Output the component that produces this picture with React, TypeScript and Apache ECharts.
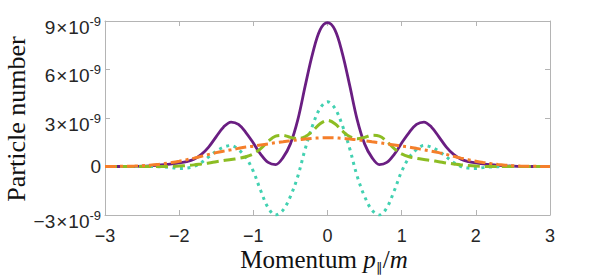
import React, { useEffect, useRef } from "react";
import * as echarts from "echarts";

// momentum p_parallel / m
const momentum = [
  -3.0, -2.9, -2.8, -2.7, -2.6, -2.5, -2.4, -2.3, -2.2, -2.1,
  -2.0, -1.9, -1.8, -1.7, -1.6, -1.5, -1.4, -1.3, -1.2, -1.1,
  -1.0, -0.9, -0.8, -0.7, -0.6, -0.5, -0.4, -0.3, -0.2, -0.1,
  0.0, 0.1, 0.2, 0.3, 0.4, 0.5, 0.6, 0.7, 0.8, 0.9,
  1.0, 1.1, 1.2, 1.3, 1.4, 1.5, 1.6, 1.7, 1.8, 1.9,
  2.0, 2.1, 2.2, 2.3, 2.4, 2.5, 2.6, 2.7, 2.8, 2.9, 3.0,
];

// particle number, in units of 1e-9
const purpleSolid = [
  0, 0, 0, 0, 0.01, 0.02, 0.04, 0.07, 0.11, 0.16,
  0.22, 0.3, 0.45, 0.75, 1.22, 1.85, 2.45, 2.75, 2.6, 2.1,
  1.45, 0.75, 0.25, 0.12, 0.55, 1.4, 2.9, 5.0, 7.0, 8.45,
  8.9, 8.45, 7.0, 5.0, 2.9, 1.4, 0.55, 0.12, 0.25, 0.75,
  1.45, 2.1, 2.6, 2.75, 2.45, 1.85, 1.22, 0.75, 0.45, 0.3,
  0.22, 0.16, 0.11, 0.07, 0.04, 0.02, 0.01, 0, 0, 0, 0,
];

const tealDotted = [
  0, 0, 0, 0, 0, 0, 0, -0.01, -0.03, -0.07,
  -0.12, -0.1, 0.0, 0.25, 0.6, 0.95, 1.2, 1.3, 1.05, 0.55,
  -0.3, -1.5, -2.55, -3.0, -2.7, -1.85, -0.6, 1.1, 2.55, 3.6,
  4.0, 3.6, 2.55, 1.1, -0.6, -1.85, -2.7, -3.0, -2.55, -1.5,
  -0.3, 0.55, 1.05, 1.3, 1.2, 0.95, 0.6, 0.25, 0.0, -0.1,
  -0.12, -0.07, -0.03, -0.01, 0, 0, 0, 0, 0, 0, 0,
];

const greenDashed = [
  0, 0, 0, 0, 0, 0, 0, 0, 0, 0.01,
  0.03, 0.06, 0.1, 0.16, 0.22, 0.3, 0.37, 0.43, 0.5, 0.6,
  0.78, 1.1, 1.55, 1.88, 1.93, 1.8, 1.72, 1.85, 2.2, 2.65,
  2.85, 2.65, 2.2, 1.85, 1.72, 1.8, 1.93, 1.88, 1.55, 1.1,
  0.78, 0.6, 0.5, 0.43, 0.37, 0.3, 0.22, 0.16, 0.1, 0.06,
  0.03, 0.01, 0, 0, 0, 0, 0, 0, 0, 0, 0,
];

const orangeDashDot = [
  0, 0, 0.01, 0.02, 0.03, 0.05, 0.08, 0.12, 0.18, 0.25,
  0.33, 0.42, 0.52, 0.63, 0.75, 0.86, 0.95, 1.03, 1.12, 1.2,
  1.26, 1.33, 1.4, 1.47, 1.53, 1.59, 1.65, 1.7, 1.74, 1.77,
  1.78, 1.77, 1.74, 1.7, 1.65, 1.59, 1.53, 1.47, 1.4, 1.33,
  1.26, 1.2, 1.12, 1.03, 0.95, 0.86, 0.75, 0.63, 0.52, 0.42,
  0.33, 0.25, 0.18, 0.12, 0.08, 0.05, 0.03, 0.02, 0.01, 0, 0,
];

const xTicks = [-3, -2, -1, 0, 1, 2, 3];
const yTicks = [-3, 0, 3, 6, 9];

const AXIS_COLOR = "#b4b4b4";
const TEXT_COLOR = "#262626";
const SANS = "'Liberation Sans', Arial, sans-serif";
const SERIF = "'Liberation Serif', 'Times New Roman', serif";

function pairs(ys: number[]) {
  return momentum.map((x, i) => [x, ys[i]]);
}

function num(v: number) {
  return v < 0 ? "\u2212" + Math.abs(v) : String(v);
}

export default function App() {
  const ref = useRef<HTMLDivElement>(null);

  useEffect(() => {
    if (!ref.current) return;
    const chart = echarts.init(ref.current, undefined, { renderer: "svg" });

    const axisCommon = {
      axisLine: { show: true, onZero: false, lineStyle: { color: AXIS_COLOR, width: 1 } },
      axisTick: { show: true, inside: true, length: 5, lineStyle: { color: AXIS_COLOR, width: 1 } },
      splitLine: { show: false },
    };

    const labelRich = {
      b: { fontFamily: SANS, fontSize: 19, color: TEXT_COLOR, lineHeight: 18, verticalAlign: "bottom" },
      x: { fontFamily: SANS, fontSize: 19, color: TEXT_COLOR, lineHeight: 18, verticalAlign: "bottom", padding: [0, 1, 0, 1] },
      s: { fontFamily: SANS, fontSize: 13, color: TEXT_COLOR, lineHeight: 31, verticalAlign: "middle" },
      z: { fontFamily: SANS, fontSize: 19, color: TEXT_COLOR, lineHeight: 22 },
    };

    chart.setOption({
      animation: false,
      grid: { left: 105, right: 42, top: 21, bottom: 60, containLabel: false },
      xAxis: [
        {
          type: "value",
          min: xTicks[0],
          max: xTicks[xTicks.length - 1],
          interval: 1,
          position: "bottom",
          ...axisCommon,
          axisLabel: {
            show: true,
            margin: 12,
            fontFamily: SANS,
            fontSize: 18,
            color: TEXT_COLOR,
            formatter: (v: number) => num(v),
          },
        },
        {
          type: "value",
          min: xTicks[0],
          max: xTicks[xTicks.length - 1],
          interval: 1,
          position: "top",
          ...axisCommon,
          axisLabel: { show: false },
        },
      ],
      yAxis: [
        {
          type: "value",
          min: yTicks[0],
          max: yTicks[yTicks.length - 1],
          interval: 3,
          position: "left",
          ...axisCommon,
          axisLabel: {
            show: true,
            margin: 4,
            formatter: (v: number) => {
              if (v === 0) return "{z|0}";
              return `{b|${num(v)}}{x|×}{b|10}{s|-9}`;
            },
            rich: labelRich,
          },
        },
        {
          type: "value",
          min: yTicks[0],
          max: yTicks[yTicks.length - 1],
          interval: 3,
          position: "right",
          ...axisCommon,
          axisLabel: { show: false },
        },
      ],
      graphic: [
        {
          type: "text",
          x: 324,
          y: 259,
          style: {
            text: "{r|Momentum }{i|p}{sub|∥}{r|/}{i|m}",
            align: "center",
            verticalAlign: "middle",
            textAlign: "center",
            textVerticalAlign: "middle",
            fill: "#111",
            rich: {
              r: { fontFamily: SERIF, fontSize: 25, lineHeight: 30, fill: "#111", color: "#111" },
              i: { fontFamily: SERIF, fontSize: 25, fontStyle: "italic", lineHeight: 30, fill: "#111", color: "#111" },
              sub: { fontFamily: SERIF, fontSize: 13, lineHeight: 12, verticalAlign: "bottom", fill: "#111", color: "#111" },
            },
          },
        },
        {
          type: "text",
          x: 16,
          y: 119,
          rotation: Math.PI / 2,
          style: {
            text: "Particle number",
            font: `26px ${SERIF}`,
            fontFamily: SERIF,
            fontSize: 26,
            align: "center",
            verticalAlign: "middle",
            textAlign: "center",
            textVerticalAlign: "middle",
            fill: "#111",
          },
        },
      ],
      series: [
        {
          type: "line",
          data: pairs(purpleSolid),
          smooth: 0.35,
          showSymbol: false,
          symbol: "none",
          lineStyle: { color: "#6a1e82", width: 2.8, type: "solid" },
          z: 2,
        },
        {
          type: "line",
          data: pairs(tealDotted),
          smooth: 0.35,
          showSymbol: false,
          symbol: "none",
          lineStyle: { color: "#42d1b1", width: 3, type: [3, 4.5], cap: "butt" },
          z: 3,
        },
        {
          type: "line",
          data: pairs(greenDashed),
          smooth: 0.35,
          showSymbol: false,
          symbol: "none",
          lineStyle: { color: "#8cbd23", width: 3, type: [12, 5], cap: "butt" },
          z: 4,
        },
        {
          type: "line",
          data: pairs(orangeDashDot),
          smooth: 0.35,
          showSymbol: false,
          symbol: "none",
          lineStyle: { color: "#f57f2b", width: 3, type: [11, 4, 3, 4], cap: "butt" },
          z: 5,
        },
      ],
    });

    return () => chart.dispose();
  }, []);

  return (
    <div
      ref={ref}
      style={{ position: "fixed", left: 0, top: 0, width: 592, height: 275, background: "#fff" }}
    />
  );
}
